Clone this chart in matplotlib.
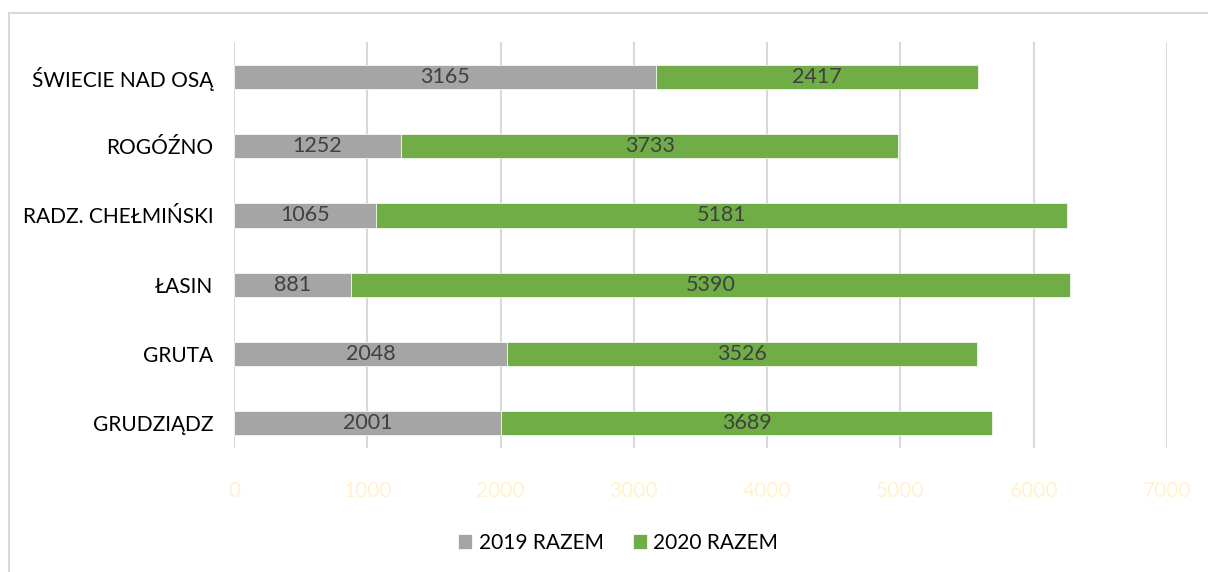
import numpy as np
import matplotlib.pyplot as plt
from matplotlib.patches import Rectangle

# data (bottom to top as drawn)
places = ['GRUDZIĄDZ', 'GRUTA', 'ŁASIN', 'RADZ. CHEŁMIŃSKI', 'ROGÓŹNO', 'ŚWIECIE NAD OSĄ']
razem_2019 = [2001, 2048, 881, 1065, 1252, 3165]
razem_2020 = [3689, 3526, 5390, 5181, 3733, 2417]
ticks = [0, 1000, 2000, 3000, 4000, 5000, 6000, 7000]

plt.rcParams['font.family'] = ['Lato', 'DejaVu Sans']

W, H = 1208, 572
fig = plt.figure(figsize=(W / 100, H / 100), dpi=100)
ax = fig.add_axes([234 / W, 1 - 448 / H, (1167 - 234) / W, (448 - 42) / H])

# outer chart border (left and top visible only)
fig.patches.append(Rectangle((9 / W, -0.05), 1.2, 1 - 13 / H + 0.05,
                             transform=fig.transFigure, fill=False,
                             edgecolor='#D9D9D9', linewidth=1.5))

y = np.arange(len(places))
h = 0.35
b1 = ax.barh(y, razem_2019, height=h, color='#A5A5A5', edgecolor='white',
             linewidth=0.5, label='2019 RAZEM', zorder=3)
b2 = ax.barh(y, razem_2020, left=razem_2019, height=h, color='#70AD47',
             edgecolor='white', linewidth=0.5, label='2020 RAZEM', zorder=3)
ax.bar_label(b1, label_type='center', fontsize=15.5, color='#404040')
ax.bar_label(b2, label_type='center', fontsize=15.5, color='#404040')

ax.set_xlim(0, 7000)
ax.set_ylim(-0.36, 5.506)
ax.set_xticks(ticks)
ax.set_xticklabels([str(t) for t in ticks], color='#FFF2CC', fontsize=15)
ax.set_yticks(y)
ax.set_yticklabels(places, fontsize=15, color='black')
ax.tick_params(axis='both', length=0)
ax.tick_params(axis='x', pad=24)
ax.tick_params(axis='y', pad=15)
ax.grid(axis='x', color='#D9D9D9', linewidth=1.5, zorder=0)
for s in ax.spines.values():
    s.set_visible(False)

fig.legend(handles=[b1, b2], loc='center', bbox_to_anchor=(618 / W, 1 - 543 / H),
           ncol=2, frameon=False, fontsize=15, handlelength=0.7, handleheight=0.7,
           columnspacing=1.4, handletextpad=0.3)

fig.savefig('out.png', dpi=100)
